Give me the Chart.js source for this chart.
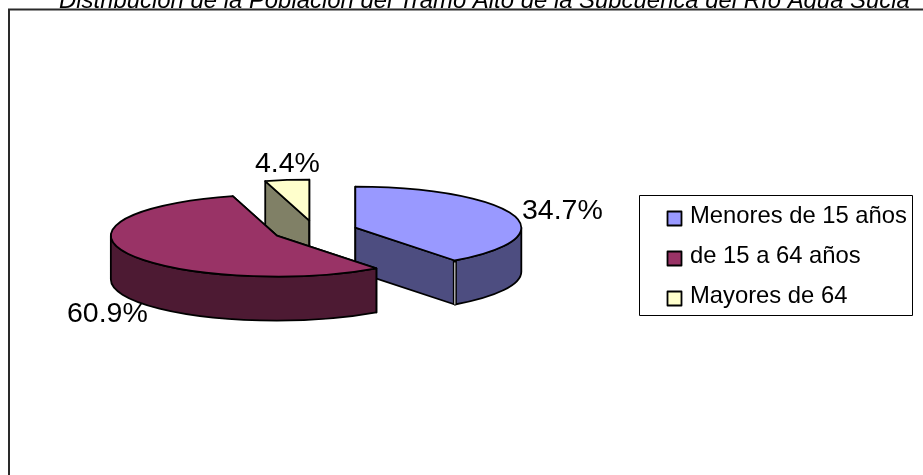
<!DOCTYPE html>
<html lang="es">
<head>
<meta charset="utf-8">
<title>Distribución de la Población</title>
<style>
html,body{margin:0;padding:0;background:#fff;overflow:hidden}
canvas{display:block}
</style>
<script src="https://cdn.jsdelivr.net/npm/chart.js@4/dist/chart.umd.min.js"></script>
</head>
<body>
<canvas id="c" width="923" height="475"></canvas>
<script>
const titleText = 'Distribución de la Población del Tramo Alto de la Subcuenca del Río Agua Sucia';
const categories = ['Menores de 15 años', 'de 15 a 64 años', 'Mayores de 64'];
const shares = [34.7, 60.9, 4.4];
const topColors = ['#9999FF', '#993366', '#FFFFCC'];
const wallColors = ['#4D4D80', '#4D1A33', '#808066'];

const FONT = '"Liberation Sans", Arial, sans-serif';
const TILT = 41 / 166;      // ellipse squash
const DEPTH = 44;           // extrusion height
const EXPLODE = 0.256;      // share of radius each slice is pulled out
const WARP = 11.6 * Math.PI / 180; // 3D foreshortening of the original renderer
const PAINT_ORDER = [2, 0, 1];
const LABEL_POS = [[522, 219], [67, 322], [255, 172]];

const warp = a => {           // a = canvas angle; returns warped canvas angle
  const t = a + Math.PI / 2;  // clockwise from 12 o'clock
  return t + WARP * (1 - Math.cos(t)) - Math.PI / 2;
};

function drawSlice(ctx, el, i) {
  const a = el.outerRadius, b = a * TILT;
  const s = warp(el.startAngle), e = warp(el.endAngle);
  const m = (s + e) / 2;
  const cx = el.x + Math.cos(m) * a * EXPLODE;
  const cy = el.y + Math.sin(m) * b * EXPLODE;
  const px = t => cx + a * Math.cos(t), py = t => cy + b * Math.sin(t);

  ctx.lineJoin = 'round';
  ctx.lineWidth = 1.8;
  ctx.strokeStyle = '#000';

  // cut faces
  [s, e].forEach(t => {
    ctx.beginPath();
    ctx.moveTo(cx, cy);
    ctx.lineTo(px(t), py(t));
    ctx.lineTo(px(t), py(t) + DEPTH);
    ctx.lineTo(cx, cy + DEPTH);
    ctx.closePath();
    ctx.fillStyle = wallColors[i];
    ctx.fill();
    ctx.stroke();
  });

  // outer wall: only the part of the rim facing the viewer (canvas angles 0..PI)
  const w0 = Math.max(s, 0), w1 = Math.min(e, Math.PI);
  if (w1 > w0) {
    ctx.beginPath();
    ctx.ellipse(cx, cy, a, b, 0, w0, w1, false);
    ctx.lineTo(px(w1), py(w1) + DEPTH);
    ctx.ellipse(cx, cy + DEPTH, a, b, 0, w1, w0, true);
    ctx.closePath();
    ctx.fillStyle = wallColors[i];
    ctx.fill();
    ctx.stroke();
    // hairline gap between a visible cut face and the rim wall
    if (e > 0 && e < Math.PI) {
      ctx.beginPath();
      ctx.moveTo(px(e), py(e));
      ctx.lineTo(px(e), py(e) + DEPTH);
      ctx.lineWidth = 4;
      ctx.stroke();
      ctx.beginPath();
      ctx.moveTo(px(e), py(e) + 2);
      ctx.lineTo(px(e), py(e) + DEPTH);
      ctx.lineWidth = 1;
      ctx.strokeStyle = '#fff';
      ctx.stroke();
      ctx.strokeStyle = '#000';
      ctx.lineWidth = 1.8;
    }
  }

  // top face
  ctx.beginPath();
  ctx.moveTo(cx, cy);
  ctx.ellipse(cx, cy, a, b, 0, s, e, false);
  ctx.closePath();
  ctx.fillStyle = topColors[i];
  ctx.fill();
  ctx.stroke();
}

const frame3d = {
  id: 'frame3d',
  beforeDraw(chart) {
    const ctx = chart.ctx;
    ctx.save();
    ctx.fillStyle = '#fff';
    ctx.fillRect(0, 0, chart.width, chart.height);
    ctx.fillStyle = '#000';
    ctx.font = 'italic 23.9px ' + FONT;
    ctx.textAlign = 'left';
    ctx.textBaseline = 'alphabetic';
    ctx.fillText(titleText, 59, 8);
    ctx.fillStyle = '#fff';
    ctx.fillRect(9, 9, 1000, 1000);
    ctx.strokeStyle = '#2a2a2a';
    ctx.lineWidth = 2;
    ctx.strokeRect(9, 9.5, 1000, 1000);
    ctx.restore();
  },
  beforeDatasetDraw() { return false; },
  afterDatasetsDraw(chart) {
    const ctx = chart.ctx;
    const arcs = chart.getDatasetMeta(0).data;
    ctx.save();
    PAINT_ORDER.forEach(i => drawSlice(ctx, arcs[i], i));

    ctx.fillStyle = '#000';
    ctx.font = '28.5px ' + FONT;
    ctx.textAlign = 'left';
    ctx.textBaseline = 'alphabetic';
    shares.forEach((v, i) => ctx.fillText(v.toFixed(1) + '%', LABEL_POS[i][0], LABEL_POS[i][1]));

    // legend
    ctx.fillStyle = '#fff';
    ctx.fillRect(639, 195, 274, 120);
    ctx.strokeStyle = '#000';
    ctx.lineWidth = 1;
    ctx.strokeRect(639.5, 195.5, 273, 120);
    ctx.font = '23.8px ' + FONT;
    categories.forEach((label, i) => {
      const y = 211 + i * 40;
      ctx.fillStyle = topColors[i];
      ctx.fillRect(667.5, y + 0.5, 14, 14);
      ctx.lineWidth = 1.8;
      ctx.strokeRect(667.5, y + 0.5, 14, 14);
      ctx.fillStyle = '#000';
      ctx.fillText(label, 690, y + 12);
    });
    ctx.restore();
  }
};

new Chart(document.getElementById('c'), {
  type: 'pie',
  data: {
    labels: categories,
    datasets: [{ data: shares, backgroundColor: topColors, borderColor: '#000', borderWidth: 1.8 }]
  },
  options: {
    responsive: false,
    animation: false,
    radius: 166,
    layout: { padding: { left: 0, right: 293, top: 0, bottom: 13 } },
    plugins: { legend: { display: false }, title: { display: false }, tooltip: { enabled: false } }
  },
  plugins: [frame3d]
});
</script>
</body>
</html>
